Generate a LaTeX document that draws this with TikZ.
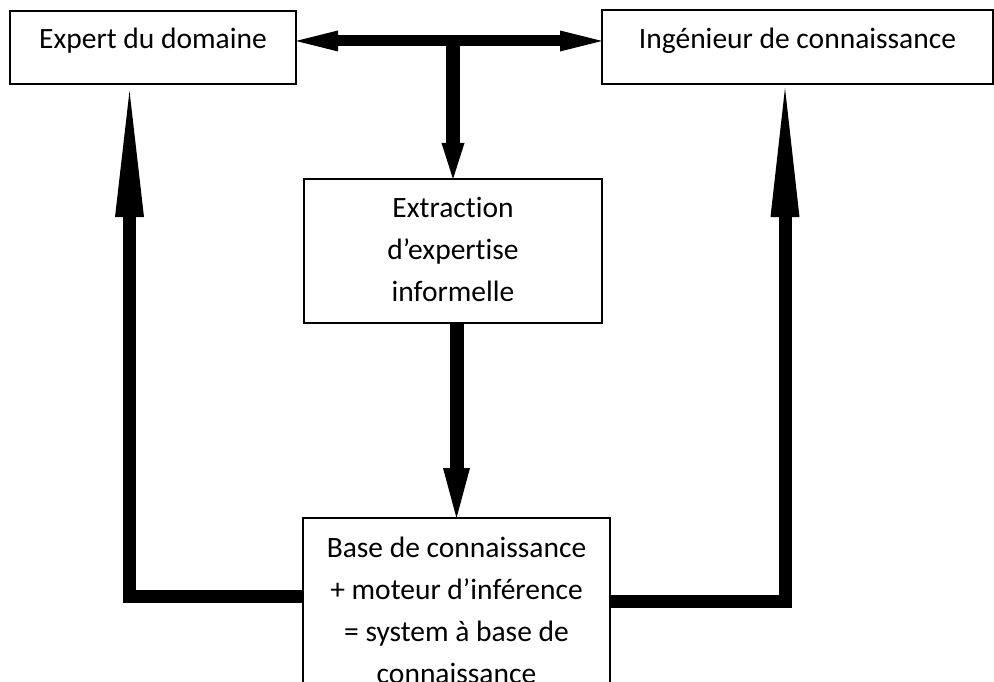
\documentclass[tikz,border=0pt]{standalone}
\usepackage{fontspec}
\setmainfont{Carlito}[Ligatures=NoCommon]
\usetikzlibrary{arrows.meta,calc,backgrounds}
\begin{document}
\begin{tikzpicture}[x=1pt,y=-1pt,
  box/.style={draw=black, line width=1.5pt, fill=white, rectangle, inner sep=0pt, outer sep=0pt},
  txt/.style={anchor=north, inner sep=0pt, align=center, font=\fontsize{29.5}{42}\selectfont},
  conn/.style={draw=black, line join=miter, line cap=butt}]
\useasboundingbox (0,0) rectangle (994,682);
\clip (0,0) rectangle (994,682);
% boxes
\node[box, minimum width=286pt, minimum height=73pt] (b1) at (153,47.5) {};
\node[box, minimum width=391pt, minimum height=74pt] (b2) at (797.5,47) {};
\node[box, minimum width=298pt, minimum height=144pt] (b3) at (453,251) {};
\node[box, minimum width=307pt, minimum height=200pt] (b4) at (456.5,618) {};
% texts
\node[txt] (t1) at ([yshift=-12pt]b1.north) {\rule{0pt}{25pt}Expert du domaine};
\node[txt] (t2) at ([yshift=-13pt]b2.north) {\rule{0pt}{25pt}Ingénieur de connaissance};
\node[txt] (t3) at ([yshift=-13pt]b3.north) {\rule{0pt}{25pt}Extraction\\d’expertise\\informelle};
\node[txt] (t4) at ([yshift=-14pt]b4.north) {\rule{0pt}{25pt}Base de connaissance\\+ moteur d’inférence\\= system à base de\\connaissance};
% helper coordinates
\coordinate (j) at (453,41);
\coordinate (lc) at (129.5,596.5);
\coordinate (rc) at (785,601);
\begin{scope}[on background layer]
\draw[conn, line width=11pt, {Triangle[length=42pt,width=21pt,line width=0pt]}-{Triangle[length=42pt,width=21pt,line width=0pt]}] (b1.east |- j) -- (b2.west |- j);
\draw[conn, line width=14pt, -{Triangle[length=36pt,width=23pt,line width=0pt]}] (j) -- (b3.north);
\draw[conn, line width=14pt, -{Triangle[length=50pt,width=27pt,line width=0pt]}] (b3.south -| b4.north) -- (b4.north);
\draw[conn, line width=13pt, -{Triangle[length=126pt,width=29pt,line width=0pt]}] (b4.west |- lc) -- (lc) -- ([yshift=-7pt]b1.south -| lc);
\draw[conn, line width=13pt, -{Triangle[length=129pt,width=29pt,line width=0pt]}] (b4.east |- rc) -- (rc) -- ([yshift=-4pt]b2.south -| rc);
\end{scope}
\end{tikzpicture}
\end{document}
